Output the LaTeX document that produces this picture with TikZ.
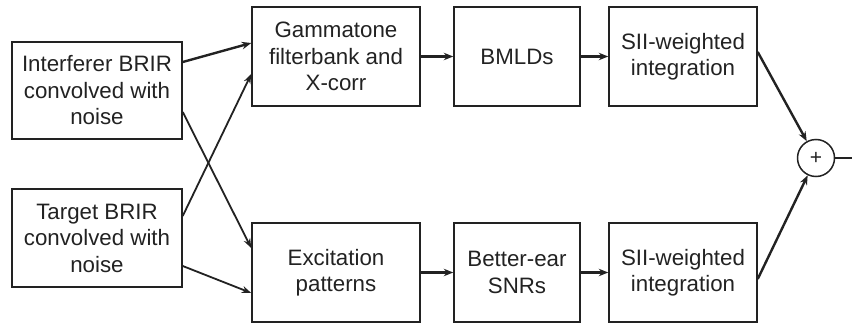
\documentclass[tikz,border=0pt]{standalone}
\usepackage{fontspec}
\setmainfont{Liberation Sans}
\usetikzlibrary{arrows.meta}
\definecolor{ink}{HTML}{222222}
\tikzset{
  blk/.style={draw=ink, line width=1.5pt, inner sep=0pt, align=center,
    font=\fontsize{22.3}{26.5}\selectfont, text=ink},
  thinarrow/.style={draw=ink, line width=1.8pt, -{Stealth[length=9.5pt,width=7pt]}},
  thickarrow/.style={draw=ink, line width=2.4pt, -{Stealth[length=9.5pt,width=7.5pt]}},
}
\begin{document}
\begin{tikzpicture}[x=1pt,y=-1pt]
\useasboundingbox (0,0) rectangle (852,324);
% inputs
\node[blk, minimum width=170pt, minimum height=97pt] (intf) at (97,90.5)
  {Interferer BRIR\\convolved with\\noise};
\node[blk, minimum width=170pt, minimum height=98pt] (targ) at (97,238)
  {Target BRIR\\convolved with\\noise};
% upper path
\node[blk, minimum width=168pt, minimum height=99pt] (gamma) at (336,56.5)
  {Gammatone\\filterbank and\\X-corr};
\node[blk, minimum width=126pt, minimum height=99pt] (bmld) at (517,56.5) {BMLDs};
\node[blk, minimum width=148pt, minimum height=99pt] (siiA) at (683,56.5)
  {SII-weighted\\integration};
% lower path
\node[blk, minimum width=168pt, minimum height=99pt] (exc) at (336,272.5)
  {Excitation\\patterns};
\node[blk, minimum width=126pt, minimum height=99pt] (bear) at (517,272.5)
  {Better-ear\\SNRs};
\node[blk, minimum width=148pt, minimum height=99pt] (siiB) at (683,272.5)
  {SII-weighted\\integration};
% summing junction
\node[circle, draw=ink, line width=1.5pt, minimum size=37pt, inner sep=0pt,
  font=\fontsize{21}{21}\selectfont, text=ink] (sum) at (816,158) {+};
\coordinate (out) at (852,158);
% input connections
\draw[thickarrow] ([yshift=28.5pt]intf.east) -- ([yshift=13.5pt]gamma.west);
\draw[thinarrow] ([yshift=22pt]targ.east) -- ([yshift=-17.5pt]gamma.west);
\draw[thinarrow] ([yshift=-21.5pt]intf.east) -- ([yshift=24.5pt]exc.west);
\draw[thinarrow] ([yshift=-28pt]targ.east) -- ([yshift=-20.5pt]exc.west);
% processing chains
\draw[thickarrow] (gamma) -- (bmld);
\draw[thickarrow] (bmld) -- (siiA);
\draw[thickarrow] (exc) -- (bear);
\draw[thickarrow] (bear) -- (siiB);
% combination
\draw[thickarrow] ([yshift=4.5pt]siiA.east) -- (sum);
\draw[thickarrow] ([yshift=-6.5pt]siiB.east) -- (sum);
\draw[draw=ink, line width=2.6pt] (sum) -- (out);
\end{tikzpicture}
\end{document}
